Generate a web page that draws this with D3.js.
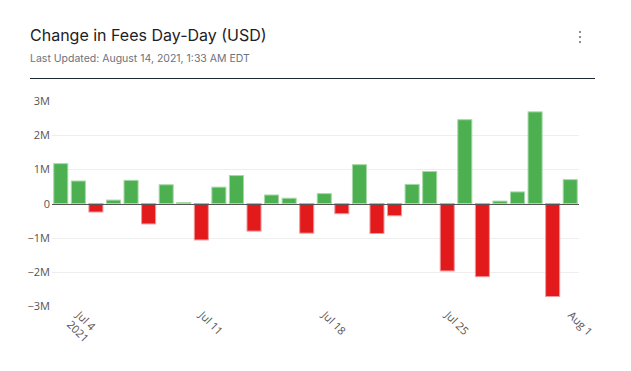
<!DOCTYPE html>
<html lang="en">
	<head>
		<meta charset="utf-8">
		<title>Change in Fees Day-Day (USD)</title>
		<script type="text/javascript" src="https://d3js.org/d3.v7.min.js"></script>
		<style type="text/css">
			body { margin: 0; background: #fff; }
		</style>
	</head>
	<body>
		<script type="text/javascript">

			//Width and height
			var w = 631;
			var h = 371;

			//one bar per day, Jul 3 .. Aug 1 2021
			var days = ["2021-07-03","2021-07-04","2021-07-05","2021-07-06","2021-07-07","2021-07-08",
				"2021-07-09","2021-07-10","2021-07-11","2021-07-12","2021-07-13","2021-07-14",
				"2021-07-15","2021-07-16","2021-07-17","2021-07-18","2021-07-19","2021-07-20",
				"2021-07-21","2021-07-22","2021-07-23","2021-07-24","2021-07-25","2021-07-26",
				"2021-07-27","2021-07-28","2021-07-29","2021-07-30","2021-07-31","2021-08-01"];

			//change in fees, USD
			var changes = [1170000, 660000, -250000, 100000, 680000, -600000,
				550000, 30000, -1070000, 480000, 820000, -810000,
				250000, 155000, -870000, 290000, -300000, 1140000,
				-880000, -360000, 560000, 940000, -1980000, 2460000,
				-2150000, 70000, 340000, 2690000, -2730000, 700000];

			var yTicks = [-3000000, -2000000, -1000000, 0, 1000000, 2000000, 3000000];
			var xTickDays = ["2021-07-04", "2021-07-11", "2021-07-18", "2021-07-25", "2021-08-01"];
			var xTickLabels = [["Jul 4", "2021"], ["Jul 11"], ["Jul 18"], ["Jul 25"], ["Aug 1"]];

			var svg = d3.select("body")
						.append("svg")
						.attr("width", w)
						.attr("height", h)
						.style("font-family", "'Open Sans', sans-serif");

			//header
			svg.append("text")
				.attr("x", 30).attr("y", 41)
				.style("font-family", "Inter, sans-serif")
				.style("font-size", "16px")
				.attr("fill", "#1d2127")
				.text("Change in Fees Day-Day (USD)");

			svg.append("text")
				.attr("x", 30).attr("y", 62)
				.style("font-family", "Inter, sans-serif")
				.style("font-size", "10.5px")
				.attr("fill", "#6b7280")
				.text("Last Updated: August 14, 2021, 1:33 AM EDT");

			//menu dots
			svg.selectAll("rect.dot")
				.data([0, 1, 2])
				.enter()
				.append("rect")
				.attr("class", "dot")
				.attr("x", 579)
				.attr("y", function(d) { return 31 + d * 5; })
				.attr("width", 2)
				.attr("height", 2)
				.attr("fill", "#8a9099");

			svg.append("line")
				.attr("x1", 30).attr("x2", 595)
				.attr("y1", 78.5).attr("y2", 78.5)
				.attr("stroke", "#1f2933")
				.attr("stroke-width", 1);

			//scales
			var x = d3.scaleBand()
				.domain(days)
				.range([52, 579])
				.paddingInner(0.2)
				.paddingOuter(0.1);

			var y = d3.scaleLinear()
				.domain([-3000000, 3000000])
				.range([305.7, 101.3]);

			//gridlines (none at the range edges or at zero)
			svg.selectAll("line.grid")
				.data(yTicks.filter(function(d) { return d !== 0 && Math.abs(d) < 3000000; }))
				.enter()
				.append("line")
				.attr("class", "grid")
				.attr("x1", 52).attr("x2", 579)
				.attr("y1", function(d) { return Math.round(y(d)) + 0.5; })
				.attr("y2", function(d) { return Math.round(y(d)) + 0.5; })
				.attr("stroke", "#eeeeee")
				.attr("stroke-width", 1);

			//y axis labels
			var fmt = function(d) {
				if (d === 0) return "0";
				return (d < 0 ? "\u2212" : "") + Math.abs(d / 1e6) + "M";
			};
			svg.selectAll("text.ytick")
				.data(yTicks)
				.enter()
				.append("text")
				.attr("class", "ytick")
				.attr("x", 50)
				.attr("y", function(d) { return y(d) + 4; })
				.attr("text-anchor", "end")
				.style("font-size", "11px")
				.attr("fill", "#555")
				.text(fmt);

			//bars
			svg.selectAll("rect.bar")
				.data(changes)
				.enter()
				.append("rect")
				.attr("class", "bar")
				.attr("x", function(d, i) { return x(days[i]); })
				.attr("width", x.bandwidth())
				.attr("y", function(d) { return Math.min(y(d), y(0)); })
				.attr("height", function(d) { return Math.abs(y(d) - y(0)); })
				.attr("fill", function(d) { return d >= 0 ? "#4caf50" : "#e31a1c"; })
				.attr("stroke", function(d) { return d >= 0 ? "#a6d8a8" : "#f19a9c"; })
				.attr("stroke-width", 1);

			//zero line
			svg.append("line")
				.attr("x1", 52).attr("x2", 579)
				.attr("y1", Math.round(y(0)) + 0.5).attr("y2", Math.round(y(0)) + 0.5)
				.attr("stroke", "#555")
				.attr("stroke-width", 1);

			//x axis labels, rotated 45 degrees
			var xt = svg.selectAll("text.xtick")
				.data(xTickDays)
				.enter()
				.append("text")
				.attr("class", "xtick")
				.attr("transform", function(d) {
					var cx = x(d) + x.bandwidth() / 2 - 3;
					return "translate(" + cx + ",316) rotate(45)";
				})
				.style("font-size", "11px")
				.attr("fill", "#555");

			xt.each(function(d, i) {
				var t = d3.select(this);
				xTickLabels[i].forEach(function(line, j) {
					t.append("tspan")
						.attr("x", 0)
						.attr("dy", j === 0 ? 0 : 13)
						.text(line);
				});
			});

		</script>
	</body>
</html>
